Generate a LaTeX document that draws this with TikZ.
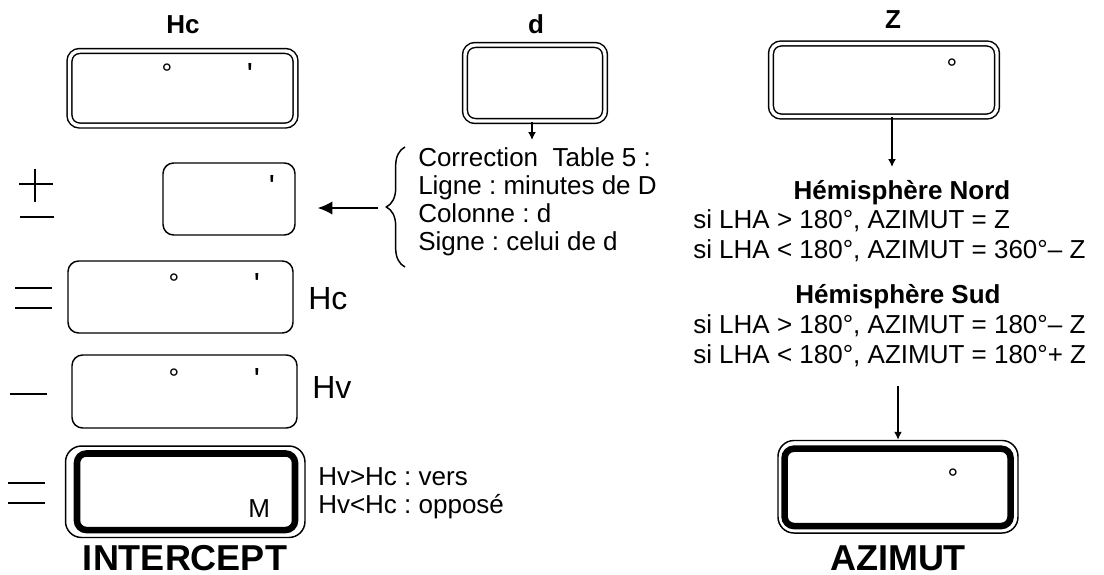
\documentclass[tikz,border=0pt]{standalone}
\usepackage{fontspec}
\setmainfont{Liberation Sans}
\usetikzlibrary{arrows.meta,decorations.pathreplacing}
\frenchspacing
\tikzset{
  dbl/.style={draw, double, line width=1.1pt, double distance=2.6pt, rounded corners=7.5pt, rectangle, inner sep=0pt},
  sgl/.style={draw, line width=1.1pt, rounded corners=8pt, rectangle, inner sep=0pt},
  thk/.style={draw, line width=4.9pt, rounded corners=7pt, rectangle, inner sep=0pt},
  thinout/.style={draw, line width=1.1pt, rounded corners=12pt, rectangle, inner sep=0pt},
  txt/.style={inner sep=0pt, font=\fontsize{19.5}{23}\selectfont},
  bld/.style={inner sep=0pt, font=\bfseries\fontsize{19.5}{23}\selectfont},
  bigtxt/.style={inner sep=0pt, font=\fontsize{24}{28}\selectfont},
  ttl/.style={inner sep=0pt, font=\bfseries\fontsize{27}{32}\selectfont},
  mk/.style={inner sep=0pt, anchor=north, font=\fontsize{20}{23}\selectfont},
  pr/.style={inner sep=0pt, anchor=north, font=\fontsize{24}{28}\selectfont},
  arr/.style={-{Latex[length=6pt,width=6pt]}, line width=1.1pt},
  bigarr/.style={-{Latex[length=11pt,width=10pt]}, line width=1.1pt},
  sym/.style={line width=1.5pt},
}
\begin{document}
\begin{tikzpicture}[x=0.75pt,y=-0.75pt]
\fill[white] (0,0) rectangle (1104,575);
\useasboundingbox (0,0) rectangle (1104,575);

% ---------- left column ----------
\node[bld, anchor=base] (hclab) at (183,33) {Hc};
\node[dbl, minimum width=169.5pt, minimum height=55.9pt] (hctop) at (182.5,88.25) {};
\node[mk] (hctopdeg) at (167,64) {°};
\node[pr] (hctopmin) at (250,63) {\textquotesingle};

% plus-minus
\draw[sym] (19,184) -- (53,184);
\draw[sym] (35,169) -- (35,202);
\draw[sym] (20,217) -- (54,217);
\node[sgl, minimum width=99pt, minimum height=54pt] (corr) at (229,199) {};
\node[pr] (corrmin) at (272,175) {\textquotesingle};

% equals
\draw[sym] (15,288) -- (52,288);
\draw[sym] (15,308) -- (52,308);
\node[sgl, minimum width=168.75pt, minimum height=54pt] (hcbox) at (180.5,297) {};
\node[mk] (hcdeg) at (174,274) {°};
\node[pr] (hcmin) at (257,273) {\textquotesingle};
\node[bigtxt, anchor=base west] (hcside) at (308,309) {Hc};

% minus
\draw[sym] (10,394) -- (47,394);
\node[sgl, minimum width=168.75pt, minimum height=54.75pt] (hvbox) at (184.5,391.5) {};
\node[mk] (hvdeg) at (174,369) {°};
\node[pr] (hvmin) at (257,368) {\textquotesingle};
\node[bigtxt, anchor=base west] (hvside) at (312,398) {Hv};

% equals
\draw[sym] (8,483) -- (45,483);
\draw[sym] (8,503) -- (45,503);
\node[thinout, minimum width=179.6pt, minimum height=68.6pt] (intout) at (185.25,491.75) {};
\node[thk, minimum width=163.5pt, minimum height=57.4pt] (intbox) at (186,491.75) {};
\node[txt, anchor=base west] (intm) at (248,517) {M};
\node[txt, anchor=base west] (vers) at (318,485) {Hv>Hc : vers};
\node[txt, anchor=base west] (oppose) at (318,513) {Hv<Hc : opposé};
\node[ttl, anchor=base] (intercept) at (185,570) {INTERCEPT};

% ---------- middle column ----------
\node[bld, anchor=base] (dlab) at (536,33) {d};
\node[dbl, minimum width=105pt, minimum height=57pt] (dbox) at (535,83) {};
\coordinate (dtip) at (532,140);
\draw[arr] (dtip |- dbox.south) -- (dtip);

\node[txt, anchor=base west] (c1) at (418,166) {Correction~ Table 5 :};
\node[txt, anchor=base west] (c2) at (418,194) {Ligne : minutes de D};
\node[txt, anchor=base west] (c3) at (418,222) {Colonne : d};
\node[txt, anchor=base west] (c4) at (418,250) {Signe : celui de d};
\draw[decorate, decoration={brace, amplitude=14pt}, line width=1.1pt] (405,267) -- (405,147);
\coordinate (bracetip) at (378,208);
\draw[bigarr, shorten >=16.5pt] (bracetip) -- (bracetip -| corr.east);

% ---------- right column ----------
\node[bld, anchor=base] (zlab) at (893,28) {Z};
\node[dbl, minimum width=169.5pt, minimum height=54.75pt] (zbox) at (884,80) {};
\node[mk] (zdeg) at (952,59) {°};
\coordinate (ztip) at (892,167);
\draw[arr] (ztip |- zbox.south) -- (ztip);

\node[bld, anchor=base] (nord) at (902,199) {Hémisphère Nord};
\node[txt, anchor=base west] (n1) at (693,228) {si LHA > 180°, AZIMUT = Z};
\node[txt, anchor=base west] (n2) at (693,258) {si LHA < 180°, AZIMUT = 360°– Z};
\node[bld, anchor=base] (sud) at (898,303) {Hémisphère Sud};
\node[txt, anchor=base west] (s1) at (693,333) {si LHA > 180°, AZIMUT = 180°– Z};
\node[txt, anchor=base west] (s2) at (693,363) {si LHA < 180°, AZIMUT = 180°+ Z};

\node[thinout, minimum width=180pt, minimum height=69.4pt] (azout) at (898,486.75) {};
\node[thk, minimum width=169.5pt, minimum height=58pt] (azbox) at (897.6,487.35) {};
\node[mk] (azdeg) at (953,469) {°};
\coordinate (azstart) at (898,386);
\draw[arr] (azstart) -- (azstart |- azout.north);
\node[ttl, anchor=base] (azimut) at (898,570) {AZIMUT};
\end{tikzpicture}
\end{document}
